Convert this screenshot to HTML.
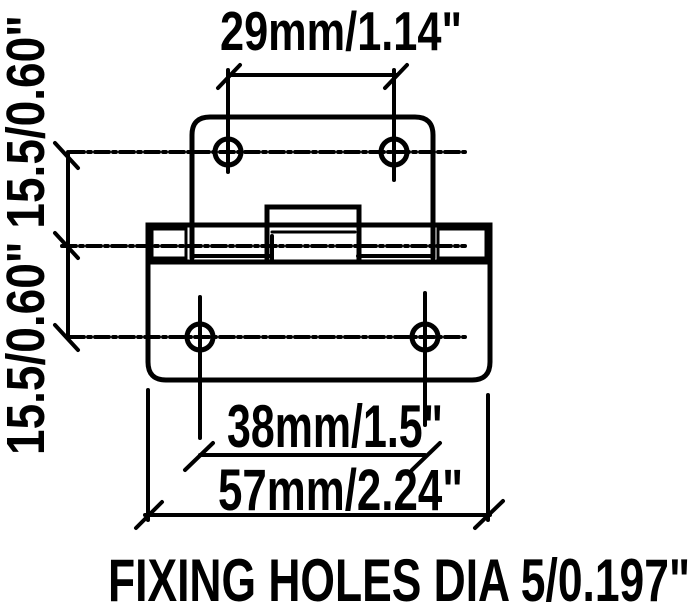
<!DOCTYPE html>
<html><head><style>html,body{margin:0;padding:0;background:#fff}svg{display:block}</style></head>
<body>
<svg width="700" height="616" viewBox="0 0 700 616" xmlns="http://www.w3.org/2000/svg">
<g fill="none" stroke="#000" stroke-linecap="round">
  <g stroke-width="4" stroke-dasharray="14 4 3 4">
    <line x1="70" y1="152" x2="465" y2="152"/>
    <line x1="62" y1="246" x2="465" y2="246"/>
    <line x1="70" y1="337" x2="465" y2="337"/>
  </g>
  <path d="M192 258 V135 Q192 117 210 117 H415 Q433 117 433 135 V258" stroke-width="5"/>
  <path d="M148 225 H490 V362 Q490 380 472 380 H166 Q148 380 148 362 Z" stroke-width="5"/>
  <line x1="150" y1="262" x2="488" y2="262" stroke-width="5"/>
  <rect x="152" y="229" width="34" height="29" stroke-width="3"/>
  <rect x="438" y="229" width="48" height="29" stroke-width="3"/>
  <line x1="192" y1="256" x2="270" y2="256" stroke-width="4"/>
  <line x1="358" y1="256" x2="433" y2="256" stroke-width="4"/>
  <rect x="267" y="207" width="92" height="55" stroke-width="5"/>
  <line x1="272" y1="232" x2="355" y2="232" stroke-width="3"/>
  <line x1="272" y1="262" x2="272" y2="236" stroke-width="4"/>
  <g stroke-width="5">
    <circle cx="228" cy="152" r="13"/><circle cx="394" cy="152" r="13"/>
    <circle cx="200" cy="337" r="13"/><circle cx="425" cy="337" r="13"/>
  </g>
  <g stroke-width="4">
    <line x1="228" y1="138" x2="228" y2="172"/><line x1="394" y1="138" x2="394" y2="180"/>
    <line x1="200" y1="297" x2="200" y2="438"/><line x1="425" y1="293" x2="425" y2="425"/>
  </g>
  <g stroke-width="4">
    <line x1="228" y1="75" x2="397" y2="75"/>
    <line x1="228" y1="70" x2="228" y2="140"/><line x1="394" y1="70" x2="394" y2="140"/>
    <line x1="218" y1="88" x2="240" y2="65"/><line x1="385" y1="88" x2="407" y2="65"/>
    <line x1="68" y1="152" x2="68" y2="337"/>
    <line x1="55" y1="143" x2="78" y2="168"/><line x1="55" y1="233" x2="78" y2="258"/><line x1="55" y1="325" x2="78" y2="350"/>
    <line x1="200" y1="455" x2="425" y2="455"/>
    <line x1="185" y1="470" x2="213" y2="443"/><line x1="412" y1="470" x2="440" y2="443"/>
    <line x1="145" y1="515" x2="490" y2="515"/>
    <line x1="148" y1="390" x2="148" y2="520"/><line x1="488" y1="395" x2="488" y2="520"/>
    <line x1="136" y1="528" x2="162" y2="502"/><line x1="475" y1="528" x2="503" y2="501"/>
  </g>
</g>
<g font-family="Liberation Sans, sans-serif" font-weight="bold" fill="#000">
  <text x="220" y="50" font-size="55" textLength="242" lengthAdjust="spacingAndGlyphs">29mm/1.14"</text>
  <text x="227" y="447" font-size="60" textLength="216" lengthAdjust="spacingAndGlyphs">38mm/1.5"</text>
  <text x="218" y="510" font-size="58" textLength="245" lengthAdjust="spacingAndGlyphs">57mm/2.24"</text>
  <text x="108" y="601" font-size="60" textLength="582" lengthAdjust="spacingAndGlyphs">FIXING HOLES DIA 5/0.197"</text>
  <text transform="translate(44,455) rotate(-90)" x="0" y="0" font-size="54" textLength="440" lengthAdjust="spacingAndGlyphs">15.5/0.60" 15.5/0.60"</text>
</g>
</svg>
</body></html>
